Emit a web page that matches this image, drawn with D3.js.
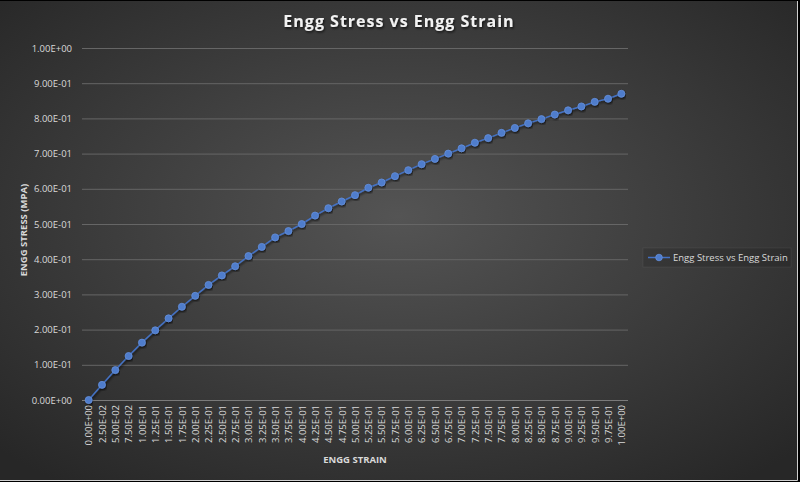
<!DOCTYPE html>
<html>
<head>
<meta charset="utf-8">
<script src="https://cdn.jsdelivr.net/npm/d3@7"></script>
<style>
  body { margin: 0; background: #000; }
  svg { display: block; }
</style>
</head>
<body>
<div id="chart"></div>
<script>
// strain categories (x axis tick labels)
const strainLabels = [
  "0.00E+00", "2.50E-02", "5.00E-02", "7.50E-02", "1.00E-01", "1.25E-01", "1.50E-01",
  "1.75E-01", "2.00E-01", "2.25E-01", "2.50E-01", "2.75E-01", "3.00E-01", "3.25E-01",
  "3.50E-01", "3.75E-01", "4.00E-01", "4.25E-01", "4.50E-01", "4.75E-01", "5.00E-01",
  "5.25E-01", "5.50E-01", "5.75E-01", "6.00E-01", "6.25E-01", "6.50E-01", "6.75E-01",
  "7.00E-01", "7.25E-01", "7.50E-01", "7.75E-01", "8.00E-01", "8.25E-01", "8.50E-01",
  "8.75E-01", "9.00E-01", "9.25E-01", "9.50E-01", "9.75E-01", "1.00E+00"
];

// engg stress values
const stressValues = [
  0, 0.043, 0.085, 0.125, 0.163, 0.198, 0.232, 0.265, 0.296, 0.327, 0.354,
  0.380, 0.409, 0.435, 0.462, 0.480, 0.500, 0.524, 0.545, 0.564, 0.582,
  0.603, 0.618, 0.636, 0.653, 0.670, 0.685, 0.700, 0.715, 0.731, 0.744,
  0.759, 0.773, 0.786, 0.798, 0.811, 0.823, 0.834, 0.847, 0.856, 0.870
];

const yTicks = [0, 0.1, 0.2, 0.3, 0.4, 0.5, 0.6, 0.7, 0.8, 0.9, 1.0];

const seriesName = "Engg Stress vs Engg Strain";
const lineColor = "#4472c4";
const textColor = "#d9d9d9";
const font = "'Open Sans', 'Liberation Sans', sans-serif";

const svgWidth = 800;
const svgHeight = 482;
const plot = { left: 82, right: 628, top: 48, bottom: 400 };

const svg = d3.select("#chart")
  .append("svg")
  .attr("width", svgWidth)
  .attr("height", svgHeight);

// background gradient
const defs = svg.append("defs");
const grad = defs.append("radialGradient")
  .attr("id", "bg")
  .attr("cx", "50%").attr("cy", "45%").attr("r", "70%");
grad.append("stop").attr("offset", "0%").attr("stop-color", "#545454");
grad.append("stop").attr("offset", "100%").attr("stop-color", "#272727");

const shadow = defs.append("filter").attr("id", "shadow")
  .attr("x", "-10%").attr("y", "-30%").attr("width", "120%").attr("height", "160%");
shadow.append("feDropShadow")
  .attr("dx", 1).attr("dy", 1.5).attr("stdDeviation", 1.2)
  .attr("flood-color", "#000").attr("flood-opacity", 0.7);

svg.append("rect")
  .attr("width", svgWidth).attr("height", svgHeight)
  .attr("fill", "#000");

svg.append("rect")
  .attr("x", 0).attr("y", 1)
  .attr("width", 797).attr("height", 479)
  .attr("fill", "url(#bg)");

// light frame on right/bottom
svg.append("path")
  .attr("d", "M797.5,1 V480.5 H0")
  .attr("fill", "none")
  .attr("stroke", "#cfcfcf")
  .attr("stroke-width", 1);

// scales
const xScale = d3.scalePoint()
  .domain(strainLabels)
  .range([plot.left, plot.right])
  .padding(0.5);

const yScale = d3.scaleLinear()
  .domain([0, 1])
  .range([plot.bottom, plot.top]);

// y grid
const yGrid = svg.append("g")
  .attr("transform", `translate(${plot.left},0)`)
  .call(d3.axisLeft(yScale).tickValues(yTicks).tickSize(-(plot.right - plot.left)).tickFormat(""));
yGrid.select(".domain").remove();
yGrid.selectAll(".tick line")
  .attr("stroke", d => d === 0 ? "#7a7a7a" : "#666666")
  .attr("stroke-width", 1);

// y axis labels
const yAxis = svg.append("g")
  .attr("transform", `translate(${plot.left},0)`)
  .call(d3.axisLeft(yScale).tickValues(yTicks).tickSize(0).tickPadding(10)
    .tickFormat(d => d3.format(".2e")(d).toUpperCase().replace(/E([+-])(\d)$/, "E$10$2")));
yAxis.select(".domain").remove();
yAxis.selectAll(".tick text")
  .attr("fill", textColor)
  .style("font-family", font)
  .style("font-size", "9.5px");

// x axis labels
const xAxis = svg.append("g")
  .attr("transform", `translate(0,${plot.bottom})`)
  .call(d3.axisBottom(xScale).tickSize(0).tickPadding(0));
xAxis.select(".domain").remove();
xAxis.selectAll(".tick text")
  .attr("fill", textColor)
  .style("font-family", font)
  .style("font-size", "9.5px")
  .attr("transform", "rotate(-90)")
  .attr("x", -5)
  .attr("y", 0)
  .attr("dy", "0.35em")
  .style("text-anchor", "end");

// axis titles
svg.append("text")
  .attr("transform", `translate(24,${(plot.top + plot.bottom) / 2 + 6}) rotate(-90)`)
  .attr("text-anchor", "middle")
  .attr("dy", "0.35em")
  .attr("fill", textColor)
  .style("font-family", font)
  .style("font-weight", "bold")
  .style("font-size", "9.5px")
  .text("ENGG STRESS (MPA)");

svg.append("text")
  .attr("x", (plot.left + plot.right) / 2)
  .attr("y", 463)
  .attr("text-anchor", "middle")
  .attr("fill", textColor)
  .style("font-family", font)
  .style("font-weight", "bold")
  .style("font-size", "9.5px")
  .text("ENGG STRAIN");

// title
svg.append("text")
  .attr("x", 399)
  .attr("y", 27)
  .attr("text-anchor", "middle")
  .attr("fill", "#f2f2f2")
  .attr("filter", "url(#shadow)")
  .style("font-family", font)
  .style("font-weight", "bold")
  .style("font-size", "16px")
  .style("letter-spacing", "1px")
  .text(seriesName);

// line + markers
const points = strainLabels.map((s, i) => ({ strain: s, stress: stressValues[i] }));

const line = d3.line()
  .x(d => xScale(d.strain))
  .y(d => yScale(d.stress));

svg.append("path")
  .datum(points)
  .attr("fill", "none")
  .attr("stroke", lineColor)
  .attr("stroke-width", 1.5)
  .attr("filter", "url(#shadow)")
  .attr("d", line);

svg.selectAll(".data-point")
  .data(points)
  .enter()
  .append("circle")
  .attr("class", "data-point")
  .attr("cx", d => xScale(d.strain))
  .attr("cy", d => yScale(d.stress))
  .attr("r", 3.5)
  .attr("fill", "#4f7dcc")
  .attr("stroke", "#6690dc")
  .attr("stroke-width", 0.8)
  .attr("filter", "url(#shadow)");

// legend
const legend = svg.append("g").attr("transform", "translate(643,248)");
legend.append("rect")
  .attr("width", 148).attr("height", 19)
  .attr("fill", "rgba(0,0,0,0.12)")
  .attr("stroke", "rgba(255,255,255,0.06)");
legend.append("line")
  .attr("x1", 5).attr("x2", 27).attr("y1", 9.5).attr("y2", 9.5)
  .attr("stroke", lineColor).attr("stroke-width", 1.5);
legend.append("circle")
  .attr("cx", 16).attr("cy", 9.5).attr("r", 3.3)
  .attr("fill", "#4f7dcc").attr("stroke", "#6690dc").attr("stroke-width", 0.8);
legend.append("text")
  .attr("x", 30).attr("y", 9.5).attr("dy", "0.35em")
  .attr("fill", textColor)
  .style("font-family", font)
  .style("font-size", "9.5px")
  .text(seriesName);
</script>
</body>
</html>
